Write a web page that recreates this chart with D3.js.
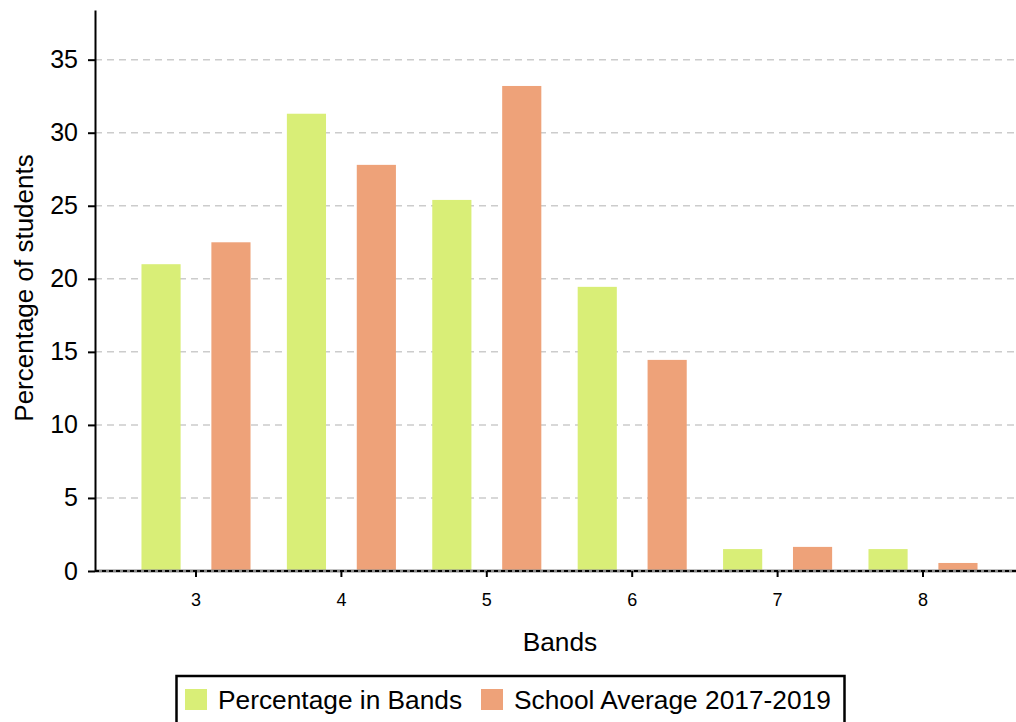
<!DOCTYPE html>
<html><head><meta charset="utf-8">
<script src="https://cdn.jsdelivr.net/npm/d3@7"></script>
<style>body{margin:0;background:#fff}svg{display:block;font-family:"Liberation Sans",Arial,sans-serif}</style>
</head><body><svg id="c" width="1016" height="722"></svg>
<script>
const bands = ["3","4","5","6","7","8"];
const seriesNames = ["Percentage in Bands","School Average 2017-2019"];
const pctInBands = [21.0, 31.3, 25.4, 19.45, 1.5, 1.5];
const schoolAvg = [22.5, 27.8, 33.2, 14.45, 1.65, 0.55];
const yTicks = [0,5,10,15,20,25,30,35];
const colors = ["#d9ee77","#eea279"];

const svg = d3.select("#c");
const x0 = 95, xEnd = 1016, yTop = 10, yBase = 571;
const x = d3.scaleBand().domain(bands).range([123.3, 995.7]).paddingInner(0).paddingOuter(0);
const xs = d3.scaleBand().domain(seriesNames).range([0, x.bandwidth()]).paddingInner(0.44).paddingOuter(0.26);
const y = d3.scaleLinear().domain([0, 38.4]).range([yBase, yTop]);

// grid
svg.append("g").selectAll("line").data(yTicks.filter(d=>d>0)).join("line")
  .attr("x1", x0).attr("x2", xEnd).attr("y1", d=>y(d)).attr("y2", d=>y(d))
  .attr("stroke","#cccccc").attr("stroke-width",1.5).attr("stroke-dasharray","7,5");

// bars
const data = bands.map((b,i)=>({band:b, vals:[pctInBands[i], schoolAvg[i]]}));
const g = svg.append("g");
data.forEach(d=>{
  d.vals.forEach((v,j)=>{
    g.append("rect").attr("x", x(d.band)+xs(seriesNames[j])).attr("width", xs.bandwidth())
      .attr("y", y(v)).attr("height", y(0)-y(v)).attr("fill", colors[j]);
  });
});

// x axis baseline
svg.append("line").attr("x1",x0).attr("x2",xEnd).attr("y1",y(0)).attr("y2",y(0))
  .attr("stroke","#888").attr("stroke-width",3);
svg.append("line").attr("x1",x0).attr("x2",xEnd).attr("y1",y(0)).attr("y2",y(0))
  .attr("stroke","#000").attr("stroke-width",2).attr("stroke-dasharray","4,3");

const xAxis = svg.append("g").attr("transform",`translate(0,${y(0)})`)
  .call(d3.axisBottom(x).tickSize(6).tickPadding(16));
xAxis.select(".domain").remove();
xAxis.selectAll(".tick line").attr("stroke","#000").attr("stroke-width",2);
xAxis.selectAll("text").attr("font-size",18).attr("fill","#000").attr("font-family","Liberation Sans, Arial, sans-serif");

// y axis
const yAxis = svg.append("g").attr("transform",`translate(${x0},0)`)
  .call(d3.axisLeft(y).tickValues(yTicks).tickSize(7).tickPadding(10).tickSizeOuter(0));
yAxis.select(".domain").attr("stroke","#000").attr("stroke-width",2);
yAxis.selectAll(".tick line").attr("stroke","#000").attr("stroke-width",2);
yAxis.selectAll("text").attr("font-size",25).attr("fill","#000").attr("font-family","Liberation Sans, Arial, sans-serif");

// titles
svg.append("text").attr("x",560).attr("y",650.5).attr("text-anchor","middle")
  .attr("font-size",26.3).text("Bands");
svg.append("text").attr("transform","translate(33,288) rotate(-90)").attr("text-anchor","middle")
  .attr("font-size",26).text("Percentage of students");

// legend
const lg = svg.append("g");
lg.append("rect").attr("x",176.5).attr("y",676).attr("width",668).attr("height",52)
  .attr("fill","#fff").attr("stroke","#000").attr("stroke-width",2.5);
const items = [{x:185, tx:218},{x:481, tx:514}];
seriesNames.forEach((n,i)=>{
  lg.append("rect").attr("x",items[i].x).attr("y",689).attr("width",22).attr("height",21).attr("fill",colors[i]);
  lg.append("text").attr("x",items[i].tx).attr("y",709).attr("font-size",26.3).text(n);
});
</script></body></html>
